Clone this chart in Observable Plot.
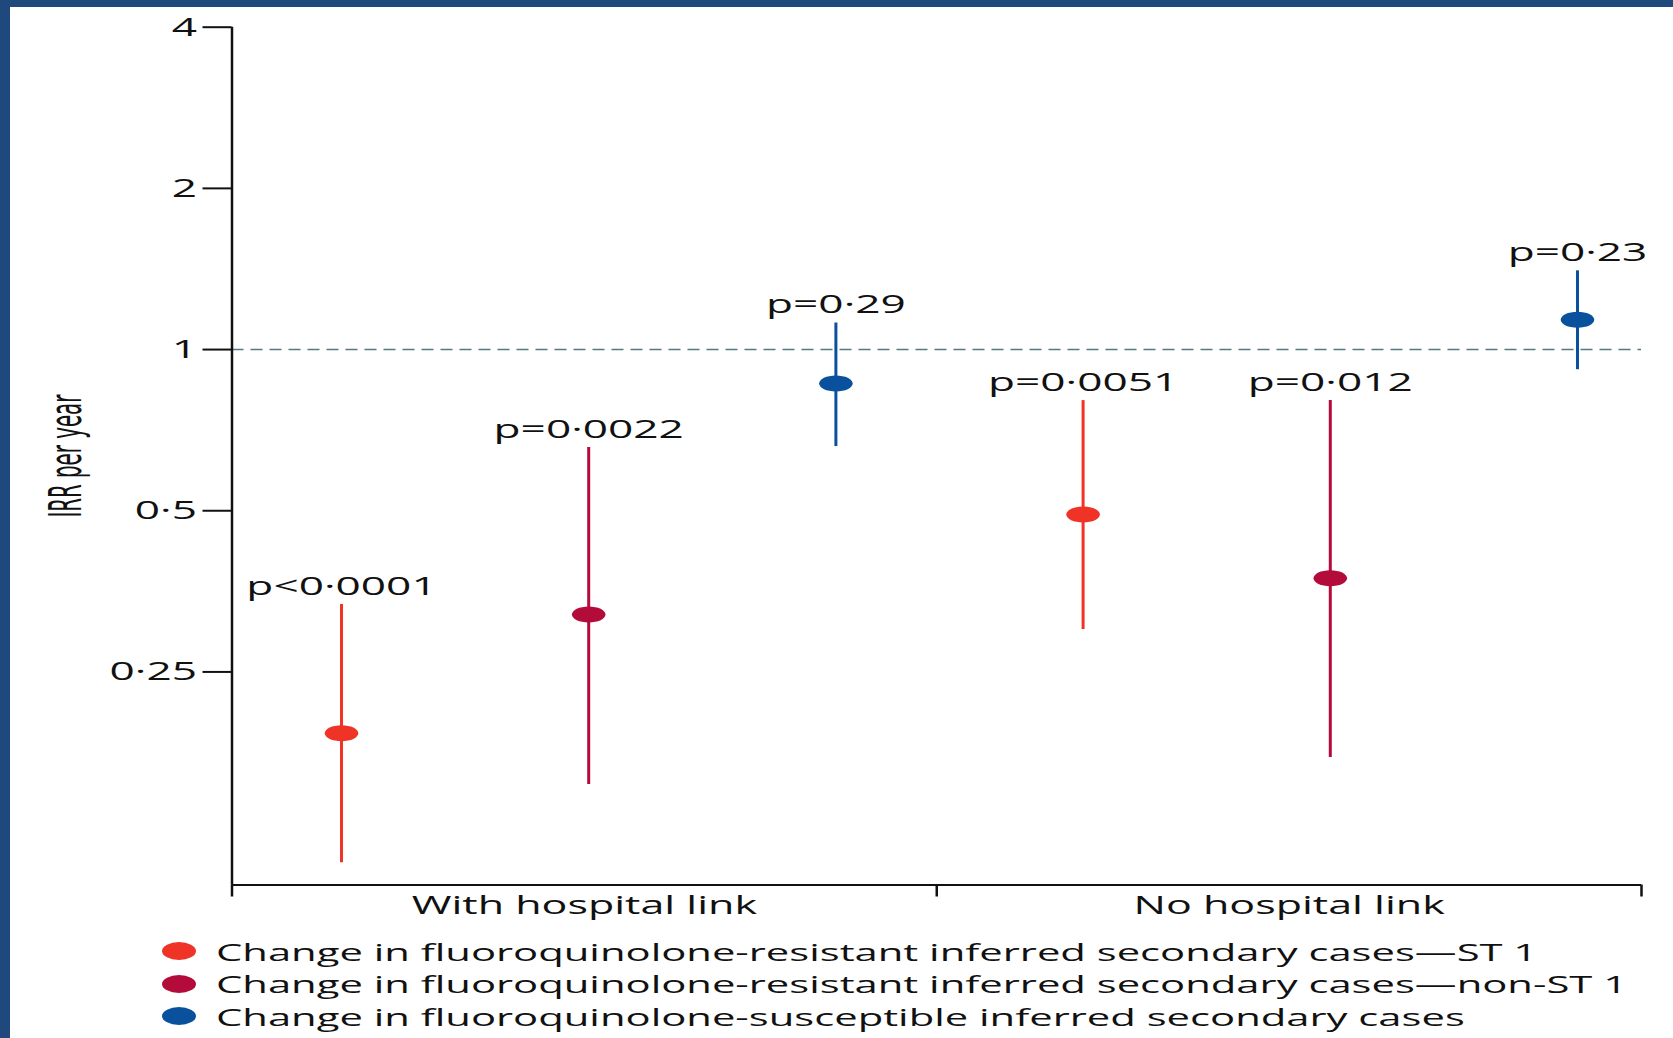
<!DOCTYPE html>
<html>
<head>
<meta charset="utf-8">
<script src="https://cdn.jsdelivr.net/npm/d3@7"></script>
<script src="https://cdn.jsdelivr.net/npm/@observablehq/plot@0.6"></script>
<style>
  html, body { margin: 0; padding: 0; background: #fff; overflow: hidden; }
  #page { width: 1663px; height: 1031px; border-top: 7px solid #1f497d; border-left: 10px solid #1f497d; background: #fff; position: relative; }
  #chart svg { display: block; overflow: visible; }
  #legend { margin-top: 3px; font-family: "Open Sans", sans-serif; font-size: 24px; color: #111; }
  .row { height: 32.5px; display: flex; align-items: center; }
  .mk { width: 34px; height: 18px; border-radius: 50%; margin-left: 152px; flex: none; }
  .lt { display: inline-block; margin-left: 20px; transform: scaleX(1.74); transform-origin: left center; white-space: nowrap; }
</style>
</head>
<body>
<div id="page">
  <div id="chart"></div>
  <div id="legend"></div>
</div>
<script>
// ---- data ----
const groups = ["With hospital link", "No hospital link"];
const groupOf = ["With hospital link", "With hospital link", "With hospital link", "No hospital link", "No hospital link", "No hospital link"];
const seriesKeys = ["ST1", "nonST1", "susceptible"];
const seriesNames = [
  "Change in fluoroquinolone-resistant inferred secondary cases\u2014ST 1",
  "Change in fluoroquinolone-resistant inferred secondary cases\u2014non-ST 1",
  "Change in fluoroquinolone-susceptible inferred secondary cases"
];
const seriesColors = ["#ef3326", "#b30b3a", "#0a519d"];
const series = ["ST1", "nonST1", "susceptible", "ST1", "nonST1", "susceptible"];
const irr = [0.192, 0.320, 0.864, 0.492, 0.374, 1.137];
const ciLow = [0.110, 0.154, 0.659, 0.300, 0.173, 0.917];
const ciHigh = [0.334, 0.656, 1.121, 0.803, 0.803, 1.403];
const pLabels = ["p<0\u00b70001", "p=0\u00b70022", "p=0\u00b729", "p=0\u00b70051", "p=0\u00b7012", "p=0\u00b723"];
const yTicks = [0.25, 0.5, 1, 2, 4];
const yLabel = "IRR per year";

// ---- table ----
const rows = irr.map((v, i) => ({i, group: groupOf[i], series: series[i], irr: v, lo: ciLow[i], hi: ciHigh[i], p: pLabels[i]}));

const xDomain = [-0.443, 5.259];
const mid = (xDomain[0] + xDomain[1]) / 2;
const bounds = [xDomain[0], mid, xDomain[1]];
const groupRows = groups.map((g, k) => ({group: g, x: (bounds[k] + bounds[k + 1]) / 2}));

const ellipse = {
  draw(ctx, size) {
    const r = Math.sqrt(size / Math.PI), rx = r * 2.1, ry = r, k = 0.5523;
    ctx.moveTo(rx, 0);
    ctx.bezierCurveTo(rx, ry * k, rx * k, ry, 0, ry);
    ctx.bezierCurveTo(-rx * k, ry, -rx, ry * k, -rx, 0);
    ctx.bezierCurveTo(-rx, -ry * k, -rx * k, -ry, 0, -ry);
    ctx.bezierCurveTo(rx * k, -ry, rx, -ry * k, rx, 0);
    ctx.closePath();
  }
};

const fmt = d => String(d).replace(".", "\u00b7");

const chart = Plot.plot({
  width: 1663,
  height: 925,
  marginLeft: 221.5,
  marginRight: 32,
  marginTop: 19.7,
  marginBottom: 47.5,
  style: {fontFamily: "'Open Sans', sans-serif", color: "#111", background: "#fff", overflow: "visible"},
  x: {domain: xDomain, axis: null},
  y: {type: "log", base: 2, domain: [0.1, 4], axis: null},
  color: {domain: seriesKeys, range: seriesColors},
  marks: [
    Plot.ruleY([1], {stroke: "#557882", strokeWidth: 1.6, strokeDasharray: "12,7"}),
    Plot.axisY({ticks: yTicks, tickSize: 29, tickPadding: 6, tickFormat: fmt, fontSize: 26, strokeWidth: 2, label: null}),
    Plot.ruleX([xDomain[0]], {stroke: "#111", strokeWidth: 2.5}),
    Plot.ruleY([0.1], {stroke: "#111", strokeWidth: 2}),
    Plot.axisX({ticks: bounds, tickSize: 12, tickFormat: () => "", strokeWidth: 2.5, label: null}),
    Plot.text(groupRows, {x: "x", text: "group", frameAnchor: "bottom", dy: 21, lineAnchor: "middle", fontSize: 25.3}),
    Plot.ruleX(rows, {x: "i", y1: "lo", y2: "hi", stroke: "series", strokeWidth: 3}),
    Plot.dot(rows, {x: "i", y: "irr", fill: "series", r: 8, symbol: ellipse, stroke: "none"}),
    Plot.text(rows, {x: "i", y: "hi", text: "p", dy: -18, lineAnchor: "middle", fontSize: 26}),
    Plot.text([yLabel], {frameAnchor: "left", textAnchor: "middle", rotate: -90, dx: -165, lineAnchor: "middle", fontSize: 44, fontFamily: "'Liberation Sans Narrow', 'DejaVu Sans Condensed', sans-serif"})
  ]
});
document.getElementById("chart").appendChild(chart);

// stretch horizontal texts to mimic the reference's wide glyphs; compress the rotated label
const K = 1.7;
chart.querySelectorAll("text").forEach(t => {
  if (t.querySelector("tspan")) return;
  const L = t.getComputedTextLength();
  if (!L) return;
  const f = t.textContent === yLabel ? 0.5 : K;
  t.setAttribute("textLength", L * f);
  t.setAttribute("lengthAdjust", "spacingAndGlyphs");
});

// legend
const legend = document.getElementById("legend");
seriesKeys.forEach((k, i) => {
  const row = document.createElement("div");
  row.className = "row";
  const mk = document.createElement("span");
  mk.className = "mk";
  mk.style.background = seriesColors[i];
  const lt = document.createElement("span");
  lt.className = "lt";
  lt.textContent = seriesNames[i];
  row.appendChild(mk);
  row.appendChild(lt);
  legend.appendChild(row);
});
</script>
</body>
</html>
